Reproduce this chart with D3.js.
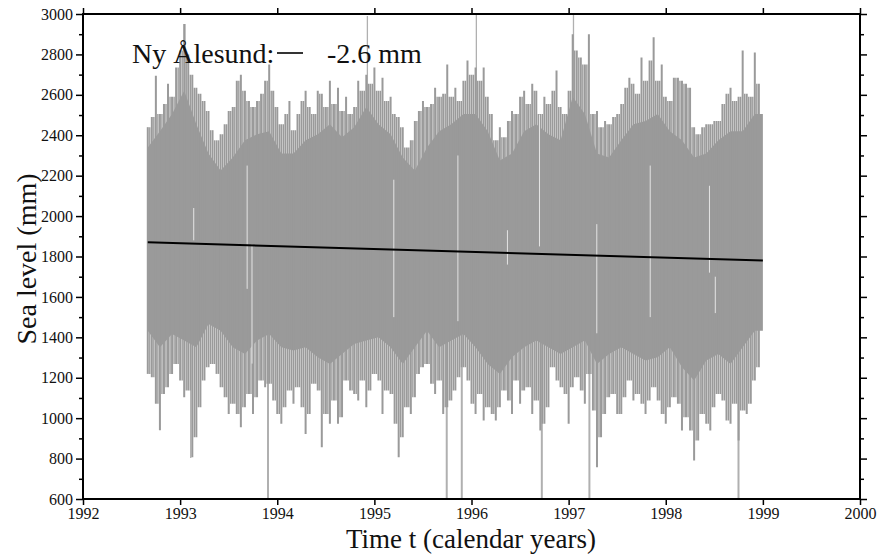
<!DOCTYPE html>
<html>
<head>
<meta charset="utf-8">
<script src="https://cdn.jsdelivr.net/npm/d3@7"></script>
<style>
    body { margin: 0; background: #fff; }
    svg text { font-family: "Liberation Serif", "Times New Roman", serif; fill: #111; }
</style>
</head>
<body>
<div id="chart"></div>
<script>
// sampled every 1/24 year, starting 1992.667
var startYear = 1992.667;
var step = 1 / 24;
var hiLevel = [2440, 2490, 2695, 2505, 2555, 2655, 2590, 2735, 2820, 2950, 2800, 2700, 2635, 2605, 2570, 2520,
    2425, 2375, 2405, 2455, 2520, 2540, 2670, 2700, 2620, 2570, 2540, 2570, 2605, 2670, 2750, 2620,
    2540, 2455, 2505, 2570, 2425, 2505, 2570, 2620, 2540, 2505, 2620, 2605, 2540, 2670, 2555, 2635,
    2520, 2590, 2505, 2540,
    2670, 2620, 2700, 2655, 2735, 2620, 2685, 2570, 2590, 2505, 2490, 2440, 2340, 2375, 2470, 2520,
    2570, 2540, 2555, 2635, 2590, 2605, 2750, 2590, 2635, 2570, 2670, 2770, 2700, 2735, 2670, 2735,
    2590, 2505, 2375, 2440, 2390, 2470, 2520, 2505, 2590, 2620, 2555, 2655, 2620, 2505, 2590, 2555,
    2620, 2720, 2540, 2505,
    2620, 2900, 2820, 2785, 2750, 2900, 2505, 2520, 2440, 2470, 2455, 2490, 2505, 2555, 2635, 2685,
    2655, 2605, 2785, 2670, 2770, 2885, 2670, 2750, 2590, 2570, 2685, 2685, 2670, 2655, 2635, 2440,
    2405, 2440, 2455, 2455, 2470, 2470, 2555, 2605, 2635, 2570, 2590, 2820, 2605, 2590, 2810, 2655];
var loLevel = [1219, 1203, 1071, 940, 1120, 1153, 1219, 1268, 1186, 1104, 1137, 807, 906, 1054, 1186, 1252,
    1268, 1219, 1153, 1104, 1021, 1071, 1021, 955, 1054, 1120, 1021, 1104, 1186, 1153, 1170, 1087,
    1021, 972, 1054, 1137, 1071, 1153, 1054, 922, 1021, 1170, 1137, 856, 1021, 972, 1087, 972,
    1005, 1186, 1137, 1120,
    1087, 1186, 1054, 1137, 1219, 1186, 1021, 1137, 1120, 972, 807, 906, 1054, 1021, 1104, 1219,
    1252, 1268, 1170, 1120, 1186, 1021, 1054, 1087, 1137, 1203, 1252, 1186, 1071, 1021, 1120, 988,
    1054, 1021, 988, 1054, 1137, 1087, 1021, 1186, 1071, 1137, 1153, 1021, 1087, 939, 972, 1054,
    1252, 1186, 1153, 1120,
    972, 1153, 1203, 1137, 1071, 1219, 1038, 757, 906, 1021, 1104, 1120, 1021, 1021, 1104, 1186,
    1087, 1120, 1071, 1021, 1087, 1153, 1087, 1021, 972, 1054, 1104, 1071, 939, 1005, 939, 790,
    889, 1021, 972, 939, 1054, 1120, 1087, 988, 972, 1071, 889, 1038, 1021, 1071, 1186, 1252];

// solid core of the band, every 1/8 year
var coreStep = 1 / 8;
var coreHi = [2340, 2420, 2505, 2620, 2455, 2310, 2225, 2290, 2375, 2405, 2420, 2310, 2310, 2375, 2405, 2455, 2390,
    2440, 2540, 2455, 2405, 2290, 2225, 2340, 2420, 2455, 2505, 2505, 2420, 2275, 2310, 2420, 2455, 2405, 2375,
    2590, 2505, 2310, 2290, 2375, 2455, 2470, 2505, 2420, 2375, 2290, 2310, 2375, 2420, 2420, 2505];
var coreLo = [1433, 1351, 1417, 1384, 1351, 1466, 1433, 1351, 1318, 1384, 1417, 1351, 1335, 1351, 1301, 1268, 1318,
    1367, 1384, 1400, 1351, 1268, 1351, 1433, 1351, 1384, 1417, 1351, 1268, 1219, 1301, 1351, 1384, 1351, 1318,
    1351, 1384, 1268, 1318, 1351, 1318, 1285, 1301, 1351, 1252, 1186, 1285, 1318, 1268, 1351, 1433];

// isolated extreme readings
var spikeYears = [1993.05, 1993.109, 1993.905, 1994.928, 1995.745, 1995.90, 1996.05, 1996.724, 1997.05, 1997.214, 1998.749];
var spikeLevels = [2950, 803, 600, 2990, 600, 600, 3000, 600, 3000, 600, 600];

// short data gaps
var gapYears = [1993.14, 1993.69, 1993.74, 1995.20, 1995.86, 1996.37, 1996.70, 1997.29, 1997.84, 1998.45, 1998.51];
var gapTops = [2040, 2250, 1860, 2180, 2300, 1930, 2500, 1960, 2250, 2150, 1700];
var gapBots = [1880, 1640, 1270, 1500, 1480, 1760, 1850, 1420, 1500, 1720, 1520];

// linear trend
var trendYears = [1992.667, 1999.0];
var trendLevels = [1870, 1780];

var xTicks = [1992, 1993, 1994, 1995, 1996, 1997, 1998, 1999, 2000];
var yTicks = [600, 800, 1000, 1200, 1400, 1600, 1800, 2000, 2200, 2400, 2600, 2800, 3000];
var yMinor = [700, 900, 1100, 1300, 1500, 1700, 1900, 2100, 2300, 2500, 2700, 2900];

var stationName = "Ny Ålesund:";
var trendLabel = "-2.6 mm";

function init() {
    var w = 879;
    var h = 554;
    var margin = { top: 14, right: 19, bottom: 55, left: 83 };
    var pw = w - margin.left - margin.right;
    var ph = h - margin.top - margin.bottom;

    var xScale = d3.scaleLinear().domain([1992, 2000]).range([0, pw]);
    var yScale = d3.scaleLinear().domain([600, 3000]).range([ph, 0]);

    var svg = d3.select("#chart")
        .append("svg")
        .attr("width", w)
        .attr("height", h);

    svg.append("defs").append("clipPath")
        .attr("id", "plotclip")
        .append("rect")
        .attr("width", pw)
        .attr("height", ph);

    var g = svg.append("g")
        .attr("transform", "translate(" + margin.left + "," + margin.top + ")");

    var plot = g.append("g").attr("clip-path", "url(#plotclip)");

    var gray = "#9a9a9a";

    // extremes first, so they only show outside the band
    plot.selectAll(".spike")
        .data(spikeYears)
        .enter()
        .append("line")
        .attr("class", "spike")
        .attr("x1", function (d) { return xScale(d); })
        .attr("x2", function (d) { return xScale(d); })
        .attr("y1", yScale(1800))
        .attr("y2", function (d, i) { return yScale(spikeLevels[i] <= 600 ? 560 : spikeLevels[i]); })
        .attr("stroke", "#b0b0b0")
        .attr("stroke-width", function (d, i) { return spikeLevels[i] <= 600 ? 2 : 1.3; });

    // solid core
    var core = coreHi.map(function (d, i) {
        return { t: startYear + i * coreStep, hi: d, lo: coreLo[i] };
    });
    core.push({ t: 1999.0, hi: coreHi[coreHi.length - 1], lo: coreLo[coreLo.length - 1] });

    plot.append("path")
        .datum(core)
        .attr("fill", gray)
        .attr("d", d3.area()
            .x(function (d) { return xScale(d.t); })
            .y0(function (d) { return yScale(d.lo); })
            .y1(function (d) { return yScale(d.hi); }));

    // envelope as vertical sticks
    var sticks = hiLevel.map(function (d, i) {
        return { t: startYear + i * step, hi: d, lo: loLevel[i] };
    });

    plot.selectAll(".stick")
        .data(sticks)
        .enter()
        .append("line")
        .attr("class", "stick")
        .attr("x1", function (d) { return xScale(d.t); })
        .attr("x2", function (d) { return xScale(d.t); })
        .attr("y1", function (d) { return yScale(d.hi); })
        .attr("y2", function (d) { return yScale(d.lo); })
        .attr("stroke", gray)
        .attr("stroke-width", 2);

    // in-between sticks, up to the lower of the two neighbours
    plot.selectAll(".stick2")
        .data(sticks.slice(0, sticks.length - 1))
        .enter()
        .append("line")
        .attr("class", "stick2")
        .attr("x1", function (d) { return xScale(d.t + step / 2); })
        .attr("x2", function (d) { return xScale(d.t + step / 2); })
        .attr("y1", function (d, i) { return yScale(Math.min(d.hi, sticks[i + 1].hi)); })
        .attr("y2", function (d, i) { return yScale(Math.max(d.lo, sticks[i + 1].lo)); })
        .attr("stroke", gray)
        .attr("stroke-width", 1.4);

    // gaps
    plot.selectAll(".gap")
        .data(gapYears)
        .enter()
        .append("line")
        .attr("class", "gap")
        .attr("x1", function (d) { return xScale(d); })
        .attr("x2", function (d) { return xScale(d); })
        .attr("y1", function (d, i) { return yScale(gapTops[i]); })
        .attr("y2", function (d, i) { return yScale(gapBots[i]); })
        .attr("stroke", "#e4e4e4")
        .attr("stroke-width", 1);

    // trend
    plot.append("line")
        .attr("x1", xScale(trendYears[0]))
        .attr("x2", xScale(trendYears[1]))
        .attr("y1", yScale(trendLevels[0]))
        .attr("y2", yScale(trendLevels[1]))
        .attr("stroke", "#000")
        .attr("stroke-width", 2);

    // legend
    g.append("text")
        .attr("x", 49)
        .attr("y", 49)
        .style("font-size", "28px")
        .text(stationName);
    g.append("line")
        .attr("x1", 194)
        .attr("x2", 220)
        .attr("y1", 39)
        .attr("y2", 39)
        .attr("stroke", "#000")
        .attr("stroke-width", 1.6);
    g.append("text")
        .attr("x", 244)
        .attr("y", 49)
        .style("font-size", "28px")
        .text(trendLabel);

    // Axis Code
    var xAxis = d3.axisBottom(xScale).tickValues(xTicks).tickSize(6).tickPadding(3).tickFormat(d3.format("d"));
    var xTop = d3.axisTop(xScale).tickValues(xTicks).tickSize(6).tickFormat("");
    var yAxis = d3.axisLeft(yScale).tickValues(yTicks).tickSize(7).tickPadding(3).tickFormat(d3.format("d"));
    var yMinorAxis = d3.axisLeft(yScale).tickValues(yMinor).tickSize(4).tickFormat("");
    var yRight = d3.axisRight(yScale).tickValues(yTicks).tickSize(7).tickFormat("");
    var yRightMinor = d3.axisRight(yScale).tickValues(yMinor).tickSize(4).tickFormat("");

    var axes = [
        g.append("g").attr("transform", "translate(0," + ph + ")").call(xAxis),
        g.append("g").call(xTop),
        g.append("g").call(yAxis),
        g.append("g").call(yMinorAxis),
        g.append("g").attr("transform", "translate(" + pw + ",0)").call(yRight),
        g.append("g").attr("transform", "translate(" + pw + ",0)").call(yRightMinor)
    ];
    axes.forEach(function (a) {
        a.attr("font-family", "Liberation Serif, serif").attr("font-size", 16);
        a.select(".domain").remove();
        a.selectAll("line").attr("stroke", "#000").attr("stroke-width", 1.5);
        a.selectAll("text").attr("fill", "#111");
    });

    // frame
    g.append("rect")
        .attr("width", pw)
        .attr("height", ph)
        .attr("fill", "none")
        .attr("stroke", "#000")
        .attr("stroke-width", 2);

    svg.append("text")
        .attr("x", 471)
        .attr("y", 548)
        .attr("text-anchor", "middle")
        .style("font-size", "27px")
        .text("Time t (calendar years)");

    svg.append("text")
        .attr("transform", "translate(26,259) rotate(-90)")
        .attr("text-anchor", "middle")
        .attr("dy", "0.35em")
        .style("font-size", "28px")
        .text("Sea level (mm)");
}

window.onload = init;
</script>
</body>
</html>
